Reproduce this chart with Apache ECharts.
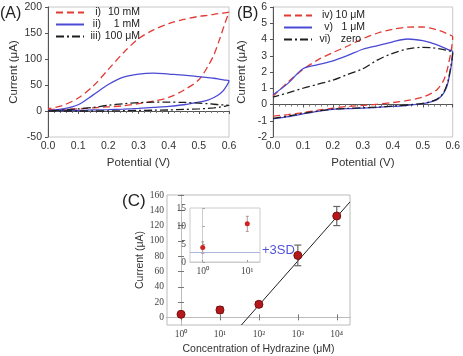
<!DOCTYPE html>
<html>
<head>
<meta charset="utf-8">
<script src="https://cdn.jsdelivr.net/npm/echarts@6/dist/echarts.min.js"></script>
<style>
  html, body { margin: 0; padding: 0; background: #fff; }
  #chart { width: 463px; height: 356px; }
</style>
</head>
<body>
<div id="chart"></div>
<script>
// potential grid (V) shared by every CV branch
const potential = [0, 0.05, 0.1, 0.15, 0.2, 0.25, 0.3, 0.35, 0.4, 0.45, 0.5, 0.53, 0.55, 0.57, 0.585, 0.6]

// (A) currents in uA, forward (lower) and reverse (upper) branch
const a10mM_fwd = [3, 3, 4, 6, 8, 10, 14, 19, 26, 40, 60, 86, 108, 140, 166, 190]
const a10mM_rev = [4, 11, 25, 48, 80, 112, 139, 156, 168, 176, 182, 184, 186, 187.5, 188.5, 190]
const a1mM_fwd = [1, 1, 1, 2, 2.5, 3.5, 5, 7, 9, 12, 17, 21, 26, 33, 42, 58]
const a1mM_rev = [1, 4, 12, 31, 51, 65, 71, 73, 71, 69, 66, 64, 63, 61, 59.5, 58]
const a100uM_fwd = [0, 0, 0, 0, 0, 0.5, 1, 1.5, 2, 3, 4, 5, 6, 7.5, 9, 11]
const a100uM_rev = [0, 2, 4, 7, 11, 14, 16, 17, 17, 16.5, 15, 14, 13, 12, 11.5, 11]

// (B) currents in uA
const b10uM_fwd = [-0.72, -0.62, -0.5, -0.35, -0.22, -0.12, -0.06, 0.02, 0.12, 0.25, 0.45, 0.7, 0.95, 1.5, 2.4, 4.17]
const b10uM_rev = [0.5, 1.38, 2.15, 2.75, 3.2, 3.6, 4.05, 4.4, 4.63, 4.76, 4.77, 4.68, 4.58, 4.45, 4.32, 4.17]
const b1uM_fwd = [-0.88, -0.75, -0.58, -0.42, -0.3, -0.25, -0.22, -0.18, -0.12, -0.05, 0.05, 0.18, 0.33, 0.7, 1.4, 3.25]
const b1uM_rev = [0.6, 1.3, 2.2, 2.45, 2.68, 3.02, 3.4, 3.63, 3.86, 4.03, 3.93, 3.78, 3.65, 3.5, 3.38, 3.25]
const bZero_fwd = [-0.85, -0.72, -0.55, -0.4, -0.28, -0.24, -0.2, -0.16, -0.1, -0.03, 0.07, 0.2, 0.35, 0.75, 1.5, 3.25]
const bZero_rev = [0.45, 0.72, 1.0, 1.25, 1.5, 1.85, 2.2, 2.75, 3.15, 3.42, 3.52, 3.5, 3.45, 3.38, 3.3, 3.25]

const legendA = ['i) 10 mM', 'ii) 1 mM', 'iii) 100 μM']
const legendB = ['iv) 10 μM', 'v) 1 μM', 'vi) zero']

// (C) calibration
const concC = [1, 10, 100, 1000, 10000]
const currentC = [4, 9.7, 17, 81, 132.5]
const errC = [1.5, 4.2, 3.5, 13.5, 12.5]
const fitConc = [35.5, 21900]
const fitCurrent = [-10, 151]
const decadeLabels = ['10⁰', '10¹', '10²', '10³', '10⁴']

// (C) inset
const concIn = [1, 10]
const currentIn = [4.0, 10.6]
const errIn = [1.6, 2.1]
const limit3SD = 2.6

const sans = 'Liberation Sans, Arial, sans-serif'
const serif = 'Liberation Serif, Times New Roman, serif'
const RED = '#e23b34'
const BLUE = '#4a4ad4'
const BLACK = '#1e1e1e'

function loop (fwd, rev) {
  const pts = potential.map((v, i) => [v, fwd[i]])
  for (let i = potential.length - 2; i >= 0; i--) pts.push([potential[i], rev[i]])
  return pts
}

function cvSeries (name, idx, color, type, fwd, rev) {
  return {
    name: name,
    type: 'line',
    xAxisIndex: idx,
    yAxisIndex: idx,
    data: loop(fwd, rev),
    symbol: 'none',
    smooth: 0.3,
    lineStyle: { color: color, width: 1.3, type: type },
    itemStyle: { color: color },
    z: 3
  }
}

function errSeries (xIdx, data, cap, color, width) {
  return {
    type: 'custom',
    xAxisIndex: xIdx,
    yAxisIndex: xIdx,
    encode: { x: 0, y: [1, 2] },
    data: data,
    renderItem: (params, api) => {
      const x = api.value(0)
      const hi = api.coord([x, api.value(2)])
      const lo = api.coord([x, api.value(1)])
      const st = { stroke: color, lineWidth: width, fill: null }
      return {
        type: 'group',
        children: [
          { type: 'line', shape: { x1: hi[0], y1: hi[1], x2: lo[0], y2: lo[1] }, style: st },
          { type: 'line', shape: { x1: hi[0] - cap, y1: hi[1], x2: hi[0] + cap, y2: hi[1] }, style: st },
          { type: 'line', shape: { x1: lo[0] - cap, y1: lo[1], x2: lo[0] + cap, y2: lo[1] }, style: st }
        ]
      }
    },
    z: 2
  }
}

function cvXAxis (gridIndex) {
  return {
    gridIndex: gridIndex,
    type: 'value',
    min: 0,
    max: 0.6,
    interval: 0.1,
    name: 'Potential (V)',
    nameLocation: 'middle',
    nameGap: 20,
    nameTextStyle: { fontFamily: sans, fontSize: 11.5, color: '#333' },
    axisLine: { lineStyle: { color: '#555', width: 1 } },
    axisTick: { show: true, inside: false, length: 3, lineStyle: { color: '#555' } },
    minorTick: { show: true, splitNumber: 5, length: 2, lineStyle: { color: '#777' } },
    axisLabel: { formatter: v => v.toFixed(1), fontFamily: sans, fontSize: 10.5, color: '#333', margin: 4 },
    splitLine: { show: false }
  }
}

function cvYAxis (gridIndex, min, max, interval, gap) {
  return {
    gridIndex: gridIndex,
    type: 'value',
    min: min,
    max: max,
    interval: interval,
    name: 'Current (μA)',
    nameLocation: 'middle',
    nameGap: gap,
    nameTextStyle: { fontFamily: sans, fontSize: 11.5, color: '#333' },
    axisLine: { show: true, lineStyle: { color: '#555', width: 1 } },
    axisTick: { show: true, inside: false, length: 3, lineStyle: { color: '#555' } },
    axisLabel: { fontFamily: sans, fontSize: 10.5, color: '#333', margin: 6 },
    splitLine: { show: false }
  }
}

function legendFormatter (name) {
  const k = name.indexOf(' ')
  const roman = name.slice(0, k)
  const conc = name.slice(k + 1)
  return '{r|' + roman + '}{' + (conc === 'zero' ? 'z' : 'c') + '|' + conc + '}'
}

function cvLegend (names, left, top, rw, cw) {
  return {
    data: names,
    orient: 'vertical',
    left: left,
    top: top,
    padding: 0,
    itemGap: 1,
    itemWidth: 28,
    itemHeight: 10,
    itemStyle: { color: 'rgba(0,0,0,0)', borderWidth: 0, opacity: 0 },
    formatter: legendFormatter,
    textStyle: {
      fontFamily: sans,
      fontSize: 10.5,
      color: '#222',
      lineHeight: 11,
      rich: {
        r: { width: rw, align: 'right', fontFamily: sans, fontSize: 10.5, color: '#222' },
        c: { width: cw, align: 'right', fontFamily: sans, fontSize: 10.5, color: '#222' },
        z: { width: cw, align: 'left', padding: [0, 0, 0, 2], fontFamily: sans, fontSize: 10.5, color: '#222' }
      }
    }
  }
}

const decadeFmt = v => decadeLabels[Math.round(v)] || ''

const chart = echarts.init(document.getElementById('chart'), null, { renderer: 'canvas' })

chart.setOption({
  animation: false,
  backgroundColor: '#fff',
  textStyle: { fontFamily: sans },
  grid: [
    { left: 48, top: 7, width: 181, height: 130, show: true, borderColor: '#c8c8c8', borderWidth: 1 },
    { left: 273, top: 7, width: 181, height: 130, show: true, borderColor: '#c8c8c8', borderWidth: 1 },
    { left: 167, top: 195, width: 183, height: 135, show: true, borderColor: '#bbb', borderWidth: 1 },
    { left: 190, top: 208, width: 70, height: 54, show: true, borderColor: '#ccc', borderWidth: 1, backgroundColor: '#fff' }
  ],
  legend: [
    cvLegend(legendA, 55, 7, 12, 39),
    cvLegend(legendB, 283, 10, 16, 32)
  ],
  xAxis: [
    cvXAxis(0),
    cvXAxis(1),
    {
      gridIndex: 2,
      type: 'value',
      min: -0.36,
      max: 4.34,
      name: 'Concentration of Hydrazine (μM)',
      nameLocation: 'middle',
      nameGap: 19,
      nameTextStyle: { fontFamily: sans, fontSize: 10.5, color: '#333' },
      axisLine: { lineStyle: { color: '#999', width: 1 } },
      axisTick: { show: true, inside: true, length: 3, customValues: [0, 1, 2, 3, 4], lineStyle: { color: '#777' } },
      axisLabel: { customValues: [0, 1, 2, 3, 4], formatter: decadeFmt, fontFamily: serif, fontSize: 9.5, color: '#444', margin: 4 },
      splitLine: { show: false }
    },
    {
      gridIndex: 2,
      type: 'value',
      position: 'top',
      min: -0.36,
      max: 4.34,
      axisLine: { lineStyle: { color: '#bbb', width: 1 } },
      axisTick: { show: true, inside: true, length: 3, customValues: [0, 1, 2, 3, 4], lineStyle: { color: '#777' } },
      axisLabel: { show: false },
      splitLine: { show: false }
    },
    {
      gridIndex: 3,
      type: 'value',
      min: -0.285,
      max: 1.285,
      axisLine: { lineStyle: { color: '#ccc', width: 1 } },
      axisTick: { show: true, inside: true, length: 2, customValues: [0, 1], lineStyle: { color: '#999' } },
      axisLabel: { customValues: [0, 1], formatter: decadeFmt, fontFamily: serif, fontSize: 9.5, color: '#444', margin: 4 },
      splitLine: { show: false }
    }
  ],
  yAxis: [
    cvYAxis(0, -50, 200, 50, 28),
    cvYAxis(1, -2, 6, 1, 25),
    {
      gridIndex: 2,
      type: 'value',
      min: -10,
      max: 160,
      name: 'Current (μA)',
      nameLocation: 'middle',
      nameGap: 20,
      nameTextStyle: { fontFamily: sans, fontSize: 10.5, color: '#333' },
      axisLine: { show: true, lineStyle: { color: '#999', width: 1 } },
      axisTick: { show: true, inside: true, length: 3, customValues: [0, 20, 40, 60, 80, 100, 120, 140, 160], lineStyle: { color: '#777' } },
      axisLabel: { customValues: [0, 20, 40, 60, 80, 100, 120, 140, 160], fontFamily: serif, fontSize: 9.5, color: '#444', margin: 3 },
      splitLine: { show: false }
    },
    {
      gridIndex: 2,
      type: 'value',
      position: 'right',
      min: -10,
      max: 160,
      axisLine: { show: true, lineStyle: { color: '#bbb', width: 1 } },
      axisTick: { show: true, inside: true, length: 3, customValues: [0, 20, 40, 60, 80, 100, 120, 140, 160], lineStyle: { color: '#777' } },
      axisLabel: { show: false },
      splitLine: { show: false }
    },
    {
      gridIndex: 3,
      type: 'value',
      min: 0,
      max: 15,
      interval: 5,
      axisLine: { show: true, lineStyle: { color: '#ccc', width: 1 } },
      axisTick: { show: true, inside: true, length: 2, lineStyle: { color: '#999' } },
      axisLabel: { fontFamily: serif, fontSize: 9.5, color: '#444', margin: 4 },
      splitLine: { show: false }
    }
  ],
  series: [
    cvSeries(legendA[0], 0, RED, [7, 4], a10mM_fwd, a10mM_rev),
    cvSeries(legendA[1], 0, BLUE, 'solid', a1mM_fwd, a1mM_rev),
    cvSeries(legendA[2], 0, BLACK, [8, 3, 2, 3], a100uM_fwd, a100uM_rev),
    cvSeries(legendB[0], 1, RED, [7, 4], b10uM_fwd, b10uM_rev),
    cvSeries(legendB[1], 1, BLUE, 'solid', b1uM_fwd, b1uM_rev),
    cvSeries(legendB[2], 1, BLACK, [8, 3, 2, 3], bZero_fwd, bZero_rev),
    {
      type: 'line',
      xAxisIndex: 2,
      yAxisIndex: 2,
      data: fitConc.map((c, i) => [Math.log10(c), fitCurrent[i]]),
      symbol: 'none',
      lineStyle: { color: '#222', width: 1 },
      z: 1
    },
    errSeries(2, concC.map((c, i) => [Math.log10(c), currentC[i] - errC[i], currentC[i] + errC[i]]), 3.5, '#666', 1.2),
    {
      type: 'scatter',
      xAxisIndex: 2,
      yAxisIndex: 2,
      data: concC.map((c, i) => [Math.log10(c), currentC[i]]),
      symbol: 'circle',
      symbolSize: 8,
      itemStyle: { color: '#b3191b', borderColor: '#7d0d0e', borderWidth: 1, opacity: 1 },
      z: 4
    },
    errSeries(4, concIn.map((c, i) => [Math.log10(c), currentIn[i] - errIn[i], currentIn[i] + errIn[i]]), 1.5, '#a08080', 0.8),
    {
      type: 'scatter',
      xAxisIndex: 4,
      yAxisIndex: 4,
      data: concIn.map((c, i) => [Math.log10(c), currentIn[i]]),
      symbol: 'circle',
      symbolSize: 5,
      itemStyle: { color: '#d12020', opacity: 1 },
      markLine: {
        silent: true,
        symbol: ['none', 'none'],
        label: { show: false },
        lineStyle: { color: '#aab6d8', width: 1, type: 'solid' },
        data: [{ yAxis: limit3SD }]
      },
      z: 4
    }
  ],
  graphic: [
    { type: 'text', left: 0, top: 6, style: { text: '(A)', fontFamily: sans, fontSize: 16, fill: '#222' } },
    { type: 'text', left: 237, top: 6, style: { text: '(B)', fontFamily: sans, fontSize: 16, fill: '#222' } },
    { type: 'text', left: 122, top: 193, style: { text: '(C)', fontFamily: sans, fontSize: 17, fill: '#222' } },
    { type: 'text', left: 262, top: 244, style: { text: '+3SD', fontFamily: sans, fontSize: 13, fill: '#5252dc' } }
  ]
})
</script>
</body>
</html>
